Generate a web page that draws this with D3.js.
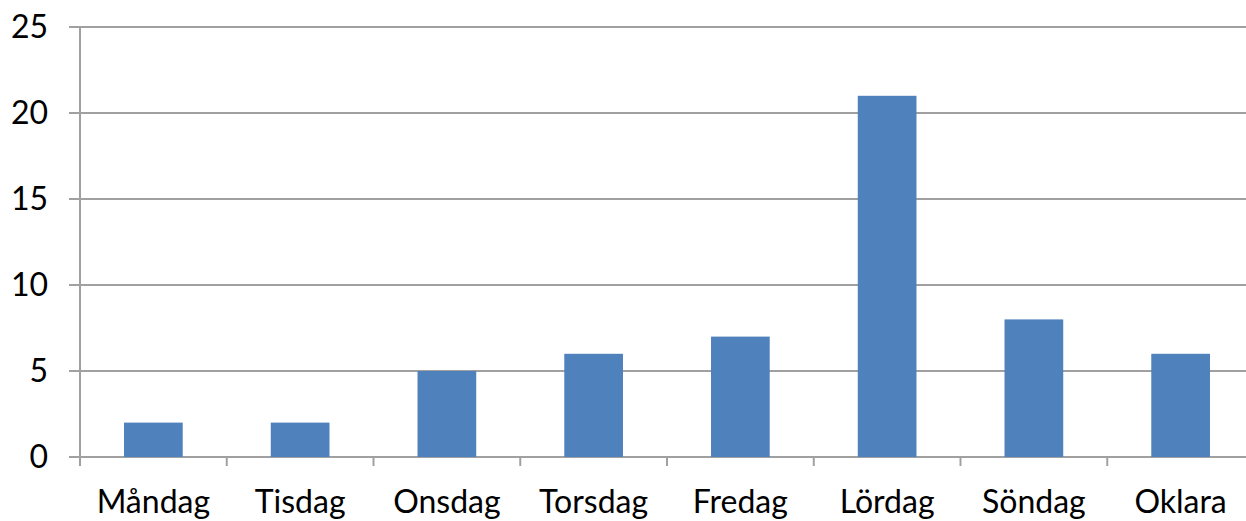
<!DOCTYPE html>
<html><head><meta charset="utf-8">
<script src="https://cdn.jsdelivr.net/npm/d3@7"></script>
<style>body{margin:0;background:#fff}svg{display:block}</style>
</head><body>
<svg id="c" width="1246" height="521"></svg>
<script>
const categories = ["Måndag","Tisdag","Onsdag","Torsdag","Fredag","Lördag","Söndag","Oklara"];
const values = [2,2,5,6,7,21,8,6];
const yTicks = [0,5,10,15,20,25];

const svg = d3.select("#c");
const pLeft = 80, pRight = 1254, pTop = 27, pBottom = 457;
const x = d3.scaleBand().domain(categories).range([pLeft, pRight]).paddingInner(0.6).paddingOuter(0.3);
const y = d3.scaleLinear().domain([0,25]).range([pBottom, pTop]);
const grid = "#a0a0a0";
const font = "Lato, 'Open Sans', sans-serif";

// gridlines
svg.append("g").selectAll("line").data(yTicks).join("line")
  .attr("x1", pLeft - 11).attr("x2", 1246)
  .attr("y1", d => y(d)).attr("y2", d => y(d))
  .attr("stroke", grid).attr("stroke-width", 2);

// y axis line
svg.append("line").attr("x1", pLeft).attr("x2", pLeft).attr("y1", pTop).attr("y2", pBottom + 9)
  .attr("stroke", grid).attr("stroke-width", 2);

// category separator ticks
const step = x.step();
const seps = categories.slice(1).map(c => x(c) - x.paddingInner() * step / 2);
svg.append("g").selectAll("line").data(seps).join("line")
  .attr("x1", d => d).attr("x2", d => d).attr("y1", pBottom).attr("y2", pBottom + 9)
  .attr("stroke", grid).attr("stroke-width", 2);

// bars
svg.append("g").selectAll("rect").data(values).join("rect")
  .attr("x", (d,i) => x(categories[i])).attr("width", x.bandwidth())
  .attr("y", d => y(d)).attr("height", d => y(0) - y(d))
  .attr("fill", "#4f81bd");

// y labels
svg.append("g").selectAll("text").data(yTicks).join("text")
  .attr("x", 48).attr("y", d => y(d)).attr("dy", "0.35em")
  .attr("text-anchor", "end").attr("font-family", font).attr("font-size", 32)
  .attr("fill", "#000").text(d => d);

// x labels
svg.append("g").selectAll("text").data(categories).join("text")
  .attr("x", d => x(d) + x.bandwidth()/2).attr("y", 513)
  .attr("text-anchor", "middle").attr("font-family", font).attr("font-size", 32)
  .attr("fill", "#000").text(d => d);
</script>
</body></html>
